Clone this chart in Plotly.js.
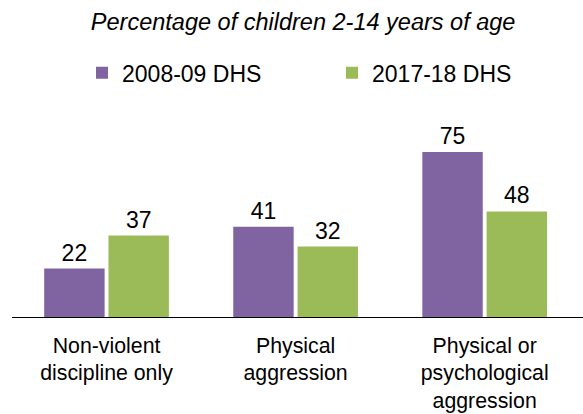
<!DOCTYPE html>
<html><head><meta charset="utf-8">
<script src="https://cdn.plot.ly/plotly-3.0.1.min.js"></script>
<style>html,body{margin:0;padding:0;background:#fff}#chart{width:583px;height:414px}</style>
</head><body><div id="chart"></div>
<script>
const categories = ["Non-violent<br>discipline only", "Physical<br>aggression", "Physical or<br>psychological<br>aggression"];
const series1Name = "2008-09 DHS";
const series1Values = [22, 41, 75];
const series2Name = "2017-18 DHS";
const series2Values = [37, 32, 48];
const titleText = "Percentage of children 2-14 years of age";

const font = "Liberation Sans, Arial, sans-serif";
const traces = [
  {type:"bar", name:series1Name, x:categories, y:series1Values, marker:{color:"#8064A2"},
   text:series1Values.map(String), textposition:"outside", cliponaxis:false,
   textfont:{size:23,color:"#000",family:font}, hoverinfo:"none"},
  {type:"bar", name:series2Name, x:categories, y:series2Values, marker:{color:"#9BBB59"},
   text:series2Values.map(String), textposition:"outside", cliponaxis:false,
   textfont:{size:23,color:"#000",family:font}, hoverinfo:"none"}
];
const layout = {
  width:583, height:414,
  margin:{l:12, r:0, t:110, b:97},
  paper_bgcolor:"#fff", plot_bgcolor:"#fff",
  font:{family:font, size:23, color:"#000"},
  title:{text:"<i>"+titleText+"</i>", x:0.52, xanchor:"center", y:0.947, yanchor:"middle", font:{size:23.5,family:font,color:"#000"}},
  showlegend:true,
  legend:{orientation:"h", x:0.1226, xanchor:"left", y:1.18, yanchor:"middle", entrywidth:205, entrywidthmode:"pixels",
    font:{size:23,family:font,color:"#000"}, itemwidth:30, traceorder:"normal"},
  barmode:"group", bargap:0.32, bargroupgap:0.06,
  xaxis:{showline:true, linecolor:"#000", linewidth:1, ticks:"", showgrid:false, tickfont:{size:21.3}, ticklabelstandoff:9, range:[-0.5,2.52], fixedrange:true},
  yaxis:{visible:false, range:[0,94.1], showgrid:false, zeroline:false}
};
Plotly.newPlot("chart", traces, layout, {displayModeBar:false, staticPlot:true});
</script></body></html>
